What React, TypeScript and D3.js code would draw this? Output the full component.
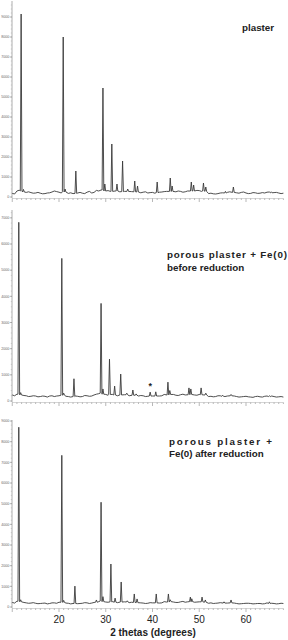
import React from 'react';
import * as d3 from 'd3';

// 2-theta positions of the baseline readings (degrees)
const baseTheta = d3.range(10, 69);
const halfTheta = d3.range(10.5, 68, 1);

// baseline counts read at every degree, one list per pattern
const base1 = [180, 300, 250, 230, 220, 200, 190, 170, 210, 300, 240, 260, 180, 170, 200, 190, 240, 200, 330, 350,
  300, 280, 300, 260, 280, 300, 260, 230, 240, 200, 230, 210, 250, 280, 330, 260, 280, 260, 330, 300,
  320, 280, 170, 160, 170, 210, 230, 250, 210, 230, 200, 180, 210, 190, 200, 250, 220, 200, 190];
const base2 = [230, 260, 230, 200, 180, 190, 170, 180, 190, 170, 200, 220, 170, 160, 180, 170, 200, 190, 260, 300,
  250, 240, 220, 230, 240, 200, 230, 190, 200, 180, 190, 170, 200, 230, 280, 220, 240, 230, 260, 230,
  250, 230, 170, 160, 200, 180, 190, 230, 170, 160, 180, 150, 170, 160, 180, 210, 170, 160, 150];
const base3 = [220, 280, 250, 200, 190, 180, 170, 190, 170, 200, 230, 220, 180, 170, 160, 180, 200, 190, 230, 290,
  240, 250, 220, 240, 250, 210, 230, 200, 190, 180, 200, 180, 200, 240, 290, 220, 250, 230, 270, 230,
  250, 230, 180, 170, 190, 200, 190, 220, 170, 160, 180, 170, 160, 170, 160, 190, 170, 160, 170];

// baseline counts read at the half degrees (noise in between)
const half1 = [150, 340, 210, 260, 190, 230, 160, 200, 250, 270, 200, 220, 210, 150, 230, 170, 280, 230, 300, 360,
  320, 260, 330, 240, 310, 270, 280, 210, 260, 220, 190, 240, 270, 300, 290, 300, 240, 300, 310, 330,
  280, 200, 190, 150, 200, 180, 260, 220, 190, 250, 170, 220, 180, 220, 240, 190, 230, 170];
const half2 = [200, 240, 210, 170, 200, 160, 190, 150, 200, 190, 230, 180, 150, 190, 160, 210, 180, 230, 280, 270,
  220, 250, 200, 260, 210, 220, 170, 210, 170, 200, 160, 190, 250, 250, 250, 210, 260, 240, 270, 220,
  200, 150, 180, 170, 200, 170, 210, 190, 150, 170, 160, 140, 180, 150, 190, 190, 150, 170];
const half3 = [190, 240, 220, 180, 210, 160, 180, 150, 200, 180, 240, 190, 150, 180, 170, 210, 170, 220, 260, 270,
  230, 260, 210, 270, 220, 230, 180, 200, 170, 210, 170, 190, 260, 260, 240, 220, 270, 250, 260, 240,
  210, 160, 200, 180, 210, 170, 200, 190, 150, 170, 180, 150, 170, 150, 200, 180, 150, 180];

// peaks: [2-theta, top counts, foot counts]
const peaks1: [number, number, number][] = [
  [11.9, 9150, 300], [12.4, 380, 250], [20.9, 8000, 260], [21.3, 400, 250], [23.6, 1300, 180],
  [29.4, 5450, 350], [29.8, 650, 300], [31.3, 2650, 280], [32.4, 650, 300], [33.6, 1800, 270],
  [34.7, 400, 280], [36.2, 800, 260], [36.8, 550, 250], [41.0, 750, 220], [43.8, 950, 280],
  [44.2, 550, 280], [48.3, 750, 300], [48.8, 600, 300], [50.9, 700, 300], [51.4, 500, 280],
  [55.6, 280, 200], [57.3, 500, 230], [65.4, 260, 210],
];
const peaks2: [number, number, number][] = [
  [11.4, 6830, 260], [11.8, 320, 230], [20.6, 5450, 220], [21.0, 300, 220], [23.2, 850, 170],
  [29.0, 3730, 300], [29.4, 460, 260], [30.8, 1600, 250], [31.9, 570, 230], [33.2, 1030, 230],
  [34.5, 300, 240], [35.8, 420, 220], [36.5, 270, 220], [39.5, 340, 190], [40.7, 350, 190],
  [43.3, 720, 230], [43.7, 400, 250], [47.8, 500, 240], [48.2, 460, 250], [50.4, 500, 240],
  [51.4, 300, 230], [55.0, 220, 180], [56.8, 250, 200], [65.0, 200, 170],
];
const peaks3: [number, number, number][] = [
  [11.4, 8700, 280], [11.8, 350, 250], [20.6, 7340, 230], [21.0, 320, 220], [23.4, 1010, 170],
  [28.0, 340, 230], [29.0, 5070, 290], [29.4, 500, 260], [31.1, 2080, 250], [32.0, 430, 230],
  [33.3, 1210, 240], [34.6, 300, 240], [36.1, 630, 220], [36.7, 390, 210], [40.8, 630, 200],
  [43.4, 630, 240], [43.8, 350, 260], [48.1, 480, 260], [48.4, 400, 260], [50.6, 480, 250],
  [51.3, 340, 230], [55.3, 250, 190], [56.8, 340, 200], [65.0, 250, 170],
];

const yMax = [9800, 7300, 9050];
const yTickMax = [9000, 7000, 9000];
const titles = [["plaster"], ["porous  plaster  +  Fe(0)", "before reduction"], ["porous plaster +", "Fe(0) after reduction"]];
const xTicks = [20, 30, 40, 50, 60];
const starTheta = 39.5;
const starCounts = 650;

const font = "'Liberation Sans', Arial, Helvetica, sans-serif";

function buildSeries(base: number[], half: number[], peaks: [number, number, number][]) {
  const raw: [number, number][] = [
    ...base.map((v, i) => [baseTheta[i], v] as [number, number]),
    ...half.map((v, i) => [halfTheta[i], v] as [number, number]),
  ];
  const pts = raw.filter(([t]) => !peaks.some(p => Math.abs(p[0] - t) < 0.3));
  peaks.forEach(([t, h, f]) => {
    pts.push([t - 0.18, f], [t, h], [t + 0.18, f]);
  });
  return pts.sort((a, b) => a[0] - b[0]);
}

const layout = [
  { zero: 197, top: 1, titleX: 242, titleY: [31], spread: [0] },
  { zero: 401, top: 210, titleX: 167, titleY: [257.5, 270.5], spread: [120, 0] },
  { zero: 607, top: 420, titleX: 169, titleY: [444.5, 456.5], spread: [103, 0] },
];

const x = d3.scaleLinear().domain([10, 68]).range([12.25, 283.4]);

const Panel: React.FC<{ idx: number; base: number[]; half: number[]; peaks: [number, number, number][] }> = ({ idx, base, half, peaks }) => {
  const L = layout[idx];
  const y = d3.scaleLinear().domain([0, yMax[idx]]).range([L.zero, L.top]);
  const line = d3.line<[number, number]>().x(d => x(d[0])).y(d => y(d[1]));
  const series = buildSeries(base, half, peaks);
  const majors = d3.range(0, yTickMax[idx] + 1, 1000);
  const minors = d3.range(0, yMax[idx], 200);
  const xMinor = d3.range(10, 69, 1);
  return (
    <g>
      {/* y axis */}
      <line x1={12} x2={12} y1={L.top} y2={L.zero + 1} stroke="#999" strokeWidth={0.8} />
      {minors.map(v => (
        <line key={'m' + v} x1={10.8} x2={12} y1={y(v)} y2={y(v)} stroke="#aaa" strokeWidth={0.5} />
      ))}
      {majors.map(v => (
        <g key={'M' + v}>
          <line x1={9.8} x2={12} y1={y(v)} y2={y(v)} stroke="#888" strokeWidth={0.6} />
          <text x={9.3} y={y(v) + 1.2} fontSize={3.6} textAnchor="end" fill="#666" fontFamily={font}>{v}</text>
        </g>
      ))}
      {/* x axis */}
      <line x1={12} x2={x(68)} y1={L.zero + 1.5} y2={L.zero + 1.5} stroke="#aaa" strokeWidth={0.5} />
      {xMinor.map(t => (
        <line key={'x' + t} x1={x(t)} x2={x(t)} y1={L.zero + 1.5} y2={L.zero + (t % 10 === 0 ? 5 : 3)}
          stroke="#888" strokeWidth={0.6} />
      ))}
      {/* pattern */}
      <path d={line(series) ?? ''} fill="none" stroke="#3a3a3a" strokeWidth={0.9} strokeLinejoin="round" />
      {titles[idx].map((s, i) => (
        <text key={s} x={L.titleX} y={L.titleY[i]} fontSize={9.8} fontWeight="bold" fill="#222" fontFamily={font}
          {...(L.spread[i] ? { textLength: L.spread[i], lengthAdjust: 'spacing' } : {})}>{s}</text>
      ))}
      {idx === 1 && (
        <text x={x(starTheta)} y={y(starCounts) + 5} fontSize={9} fontWeight="bold" textAnchor="middle"
          fill="#222" fontFamily={font}>*</text>
      )}
      {idx === 2 && xTicks.map(t => (
        <text key={t} x={x(t)} y={623} fontSize={10} textAnchor="middle" fill="#222" fontFamily={font}>{t}</text>
      ))}
      {idx === 2 && (
        <text x={153} y={635.5} fontSize={10} fontWeight="bold" textAnchor="middle" fill="#222" fontFamily={font}>
          2 thetas (degrees)
        </text>
      )}
    </g>
  );
};

export default function App() {
  return (
    <svg width={288} height={640} style={{ position: 'absolute', left: 0, top: 0, background: '#fff' }}>
      <rect width={288} height={640} fill="#fff" />
      <Panel idx={0} base={base1} half={half1} peaks={peaks1} />
      <Panel idx={1} base={base2} half={half2} peaks={peaks2} />
      <Panel idx={2} base={base3} half={half3} peaks={peaks3} />
    </svg>
  );
}
